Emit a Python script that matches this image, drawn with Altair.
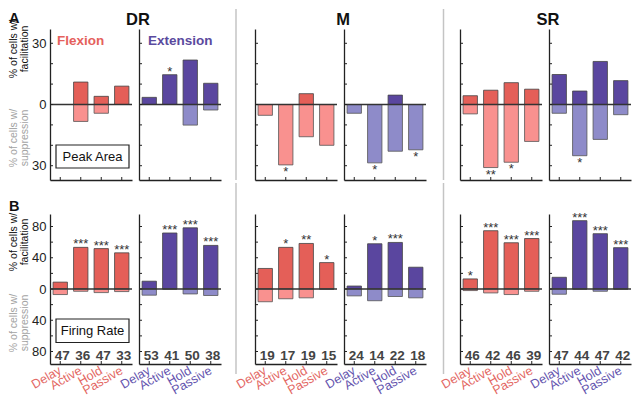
import altair as alt
import pandas as pd

groups = ["DR", "M", "SR"]
moves = ["Flexion", "Extension"]
epochs = ["Delay", "Active", "Hold", "Passive"]
row_letters = {"A": "A", "B": "B"}
measure_names = {"A": "Peak Area", "B": "Firing Rate"}
title_fac = ["% of cells w/", "facilitation"]
title_sup = ["% of cells w/", "suppression"]

# Row A - Peak Area: % of cells with facilitation (up) and suppression (down)
pa_fac = {
    "DR-Flexion":   [0, 11.0, 4.0, 9.0],
    "DR-Extension": [3.5, 14.6, 21.8, 10.4],
    "M-Flexion":    [0, 0, 5.3, 0],
    "M-Extension":  [0, 0, 4.6, 0],
    "SR-Flexion":   [4.3, 7.0, 10.7, 7.5],
    "SR-Extension": [14.7, 6.6, 21.1, 11.7],
}
pa_sup = {
    "DR-Flexion":   [0, 8.3, 4.3, 0],
    "DR-Extension": [0, 0, 10.1, 2.7],
    "M-Flexion":    [5.3, 29.6, 15.8, 20.0],
    "M-Extension":  [4.3, 28.6, 22.9, 22.2],
    "SR-Flexion":   [4.6, 30.9, 28.3, 18.1],
    "SR-Extension": [4.3, 25.1, 17.1, 5.0],
}
pa_fac_sig = {
    "DR-Flexion":   ["", "", "", ""],
    "DR-Extension": ["", "*", "", ""],
    "M-Flexion":    ["", "", "", ""],
    "M-Extension":  ["", "", "", ""],
    "SR-Flexion":   ["", "", "", ""],
    "SR-Extension": ["", "", "", ""],
}
pa_sup_sig = {
    "DR-Flexion":   ["", "", "", ""],
    "DR-Extension": ["", "", "", ""],
    "M-Flexion":    ["", "*", "", ""],
    "M-Extension":  ["", "*", "", "*"],
    "SR-Flexion":   ["", "**", "*", ""],
    "SR-Extension": ["", "*", "", ""],
}

# Row B - Firing Rate
fr_fac = {
    "DR-Flexion":   [8.8, 53.3, 51.7, 46.3],
    "DR-Extension": [10.0, 71.7, 78.3, 55.8],
    "M-Flexion":    [26.3, 53.3, 58.3, 33.8],
    "M-Extension":  [3.8, 57.9, 59.6, 27.9],
    "SR-Flexion":   [12.9, 74.6, 59.2, 64.6],
    "SR-Extension": [15.0, 87.5, 70.8, 52.9],
}
fr_sup = {
    "DR-Flexion":   [7.1, 2.9, 4.6, 3.3],
    "DR-Extension": [7.9, 0, 6.3, 8.3],
    "M-Flexion":    [16.3, 12.5, 11.3, 0],
    "M-Extension":  [8.8, 15.0, 9.6, 11.3],
    "SR-Flexion":   [2.0, 5.0, 7.1, 2.9],
    "SR-Extension": [6.7, 0, 2.9, 0],
}
fr_fac_sig = {
    "DR-Flexion":   ["", "***", "***", "***"],
    "DR-Extension": ["", "***", "***", "***"],
    "M-Flexion":    ["", "*", "**", "*"],
    "M-Extension":  ["", "*", "***", ""],
    "SR-Flexion":   ["*", "***", "***", "***"],
    "SR-Extension": ["", "***", "***", "***"],
}
fr_sup_sig = {k: ["", "", "", ""] for k in fr_fac}
fr_n = {
    "DR-Flexion":   [47, 36, 47, 33],
    "DR-Extension": [53, 41, 50, 38],
    "M-Flexion":    [19, 17, 19, 15],
    "M-Extension":  [24, 14, 22, 18],
    "SR-Flexion":   [46, 42, 46, 39],
    "SR-Extension": [47, 44, 47, 42],
}

FONT = "Liberation Sans"
W = 82
H = {"A": 151, "B": 150}
DOM = {"A": [-37, 37], "B": [-96, 96]}
TICKS = {"A": [-30, -20, -10, 0, 10, 20, 30],
         "B": [-80, -60, -40, -20, 0, 20, 40, 60, 80]}
LABELS = {"A": [-30, 0, 30], "B": [-80, -40, 0, 40, 80]}
N_LEVEL = -86

COL = {
    "Flexion": dict(dark="#E45F58", light="#F9918F", title="#E5615C", label="#E36763"),
    "Extension": dict(dark="#5A469F", light="#8E8BC9", title="#5A4A9E", label="#6454AE"),
}


def one(**kw):
    return pd.DataFrame({k: [v] for k, v in kw.items()})


def text_at(t, x, y, **mk):
    return alt.Chart(one(t=t)).mark_text(**mk).encode(
        x=alt.value(x), y=alt.value(y), text="t:N")


def panel(row, grp, mov):
    key = f"{grp}-{mov}"
    h = H[row]
    first = grp == "DR" and mov == "Flexion"
    c = COL[mov]
    if row == "A":
        fac, sup = pa_fac[key], pa_sup[key]
        fsig, ssig = pa_fac_sig[key], pa_sup_sig[key]
        n = [""] * 4
    else:
        fac, sup = fr_fac[key], fr_sup[key]
        fsig, ssig = fr_fac_sig[key], fr_sup_sig[key]
        n = [str(v) for v in fr_n[key]]
    df = pd.DataFrame({"epoch": epochs, "fac": fac, "sup": sup,
                       "fsig": fsig, "ssig": ssig, "n": n})

    xs = alt.Scale(domain=epochs, paddingInner=0.3, paddingOuter=0.15)
    ys = alt.Scale(domain=DOM[row], nice=False)
    if row == "A":
        xaxis = alt.Axis(title=None, labels=False, ticks=False, grid=False,
                         domainColor="#222", domainWidth=1.3)
    else:
        xaxis = alt.Axis(title=None, ticks=False, grid=False,
                         domainColor="#222", domainWidth=1.3,
                         labelAngle=-30, labelAlign="right", labelBaseline="middle",
                         labelPadding=5, labelColor=c["label"], labelFontSize=12.5,
                         labelOverlap=False, labelFont=FONT)
    yaxis = alt.Axis(title=None, values=LABELS[row], labels=first, ticks=False, grid=False,
                     labelExpr="abs(datum.value)", labelFontSize=13, labelPadding=4,
                     labelColor="#222", labelFont=FONT,
                     domainColor="#222", domainWidth=1.3)
    X = alt.X("epoch:N", scale=xs, axis=xaxis)

    def Y(f):
        return alt.Y(f, scale=ys, axis=yaxis)

    base = alt.Chart(df).transform_calculate(neg="-datum.sup")

    layers = [
        base.mark_bar(color=c["dark"], stroke="#444", strokeWidth=0.8).encode(
            x=X, y=Y("fac:Q"), y2=alt.datum(0)),
        base.mark_bar(color=c["light"], stroke="#555", strokeWidth=0.8).encode(
            x=X, y=Y("neg:Q"), y2=alt.datum(0)),
        alt.Chart(one(z=0)).mark_rule(color="#333", strokeWidth=1.5).encode(y=Y("z:Q")),
        alt.Chart(pd.DataFrame({"v": TICKS[row]})).mark_rule(color="#222", strokeWidth=1).encode(
            y=Y("v:Q"), x=alt.value(0), x2=alt.value(3)),
        alt.Chart(pd.DataFrame({"epoch": epochs})).mark_rule(color="#222", strokeWidth=1).encode(
            x=X, y=alt.value(h), y2=alt.value(h - 3)),
        base.mark_text(baseline="alphabetic", dy=1, fontSize=13, color="#333", font=FONT).encode(
            x=X, y=Y("fac:Q"), text="fsig:N"),
        base.mark_text(baseline="top", dy=1, fontSize=13, color="#333", font=FONT).encode(
            x=X, y=Y("neg:Q"), text="ssig:N"),
    ]
    if row == "B":
        layers.append(
            base.transform_calculate(lv=str(N_LEVEL)).mark_text(
                baseline="middle", dx=2, fontSize=13.5, fontWeight="bold",
                color="#444", font=FONT).encode(x=X, y=Y("lv:Q"), text="n:N")
        )
    if row == "A" and grp == "DR":
        layers.append(text_at(mov, 7 if mov == "Flexion" else 9, 15.5, align="left",
                              baseline="alphabetic", fontSize=13.5, fontWeight="bold",
                              color=c["title"], font=FONT))
    if row == "A" and mov == "Extension":
        layers.append(text_at(grp, -1, -4.5, align="center", baseline="alphabetic",
                              fontSize=16.5, fontWeight="bold", color="#111", font=FONT))
    if first:
        if row == "A":
            by0, by1 = h - 35, h - 12
            fac_c, sup_c, let_y = 20, 109, -6
        else:
            by0, by1 = h - 45, h - 21.5
            fac_c, sup_c, let_y = 28, 109, -3.5
        layers += [
            alt.Chart(one(b=0)).mark_rect(fill="white", stroke="#222", strokeWidth=1.2).encode(
                x=alt.value(6), x2=alt.value(79), y=alt.value(by0), y2=alt.value(by1)),
            text_at(measure_names[row], 42.5, (by0 + by1) / 2, align="center", baseline="middle",
                    fontSize=13, color="#111", font=FONT),
            text_at(row_letters[row], -41, let_y, align="left", baseline="alphabetic",
                    fontSize=14.5, fontWeight="bold", color="#111", font=FONT),
            text_at(title_fac[0], -36, fac_c, angle=270, align="center", baseline="middle",
                    fontSize=10.5, color="#111", font=FONT),
            text_at(title_fac[1], -25, fac_c, angle=270, align="center", baseline="middle",
                    fontSize=10.5, color="#111", font=FONT),
            text_at(title_sup[0], -36, sup_c, angle=270, align="center", baseline="middle",
                    fontSize=10.5, color="#A3A3A3", font=FONT),
            text_at(title_sup[1], -25, sup_c, angle=270, align="center", baseline="middle",
                    fontSize=10.5, color="#A3A3A3", font=FONT),
        ]
    return alt.layer(*layers).properties(width=W, height=h)


def spacer(row, sx):
    h = H[row]
    y0, y1 = (-20, h) if row == "A" else (-31, h + 10)
    return alt.Chart(one(s=0)).mark_rule(color="#C4C4C4", strokeWidth=1.5).encode(
        x=alt.value(sx), y=alt.value(y0), y2=alt.value(y1)).properties(width=20, height=h)


SEP_X = [8, 10.5]


def row_chart(row):
    items = []
    for gi, grp in enumerate(groups):
        for mov in moves:
            items.append(panel(row, grp, mov))
        if gi < len(groups) - 1:
            items.append(spacer(row, SEP_X[gi]))
    return alt.hconcat(*items, spacing=7, bounds="flush")


chart = alt.vconcat(row_chart("A"), row_chart("B"), spacing=0).properties(
    padding={"left": 0, "top": 0, "right": 0, "bottom": 0}
).configure(font=FONT).configure_view(stroke=None)

chart.save("out.html", embed_options={"renderer": "svg", "actions": False})
